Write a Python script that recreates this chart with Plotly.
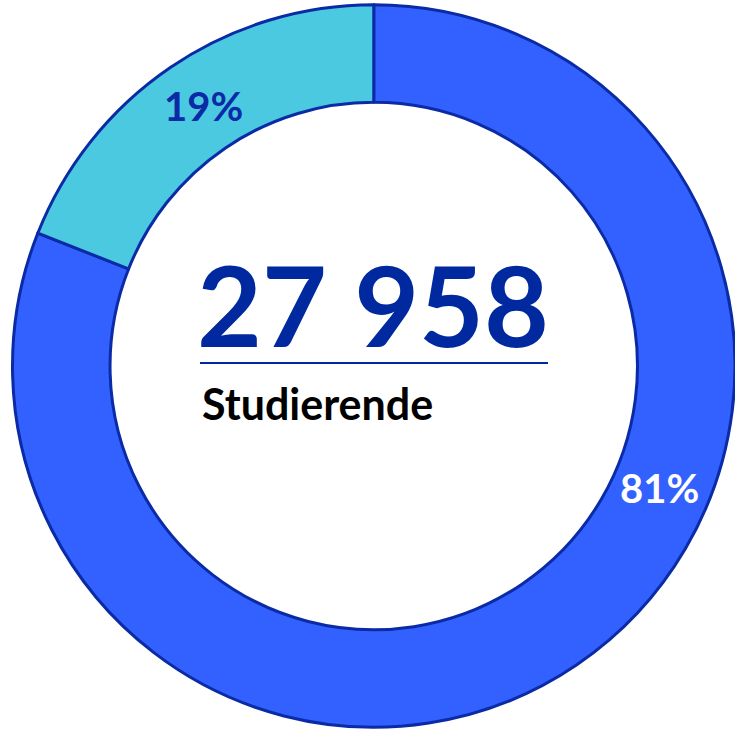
import plotly.graph_objects as go

labels = ["Gruppe A", "Gruppe B"]
values = [81, 19]
colors = ["#3361FF", "#4AC9E0"]
total_text = "27 958"
subtitle = "Studierende"

W, H = 735, 730
fig = go.Figure(go.Pie(
    labels=labels, values=values, sort=False, direction="clockwise", rotation=0,
    hole=0.73, textinfo="none", hoverinfo="label+percent",
    marker=dict(colors=colors, line=dict(color="#0A2BA5", width=3)),
    domain=dict(x=[0.017, 1.0], y=[0.0034, 0.9938]),
    showlegend=False,
))

pct = [round(v / sum(values) * 100) for v in values]
ann = [
    dict(x=659 / W, y=1 - 488 / H, text=f"<b>{pct[0]}%</b>", font=dict(color="white", size=40)),
    dict(x=203 / W, y=1 - 106 / H, text=f"<b>{pct[1]}%</b>", font=dict(color="#0A2BA5", size=40)),
    dict(x=373 / W, y=1 - 303 / H, text=f"<b>{total_text}</b>", font=dict(color="#0029A0", size=112)),
    dict(x=200 / W, y=1 - 403 / H, text=f"<b>{subtitle}</b>", xanchor="left", font=dict(color="black", size=43)),
]
for a in ann:
    a.setdefault("xanchor", "center")
    a.update(xref="paper", yref="paper", yanchor="middle", showarrow=False)

fig.update_layout(
    width=W, height=H, margin=dict(l=0, r=0, t=0, b=0),
    paper_bgcolor="white", plot_bgcolor="white",
    font=dict(family="Lato, 'Open Sans', sans-serif"),
    annotations=ann,
    shapes=[dict(type="line", xref="paper", yref="paper", x0=200 / W, x1=548 / W,
                 y0=1 - 363 / H, y1=1 - 363 / H, line=dict(color="#0029A0", width=2))],
)
fig.write_html("out.html", config={"displayModeBar": False},
               post_script="document.body.style.margin='0';document.body.style.overflow='hidden';")
